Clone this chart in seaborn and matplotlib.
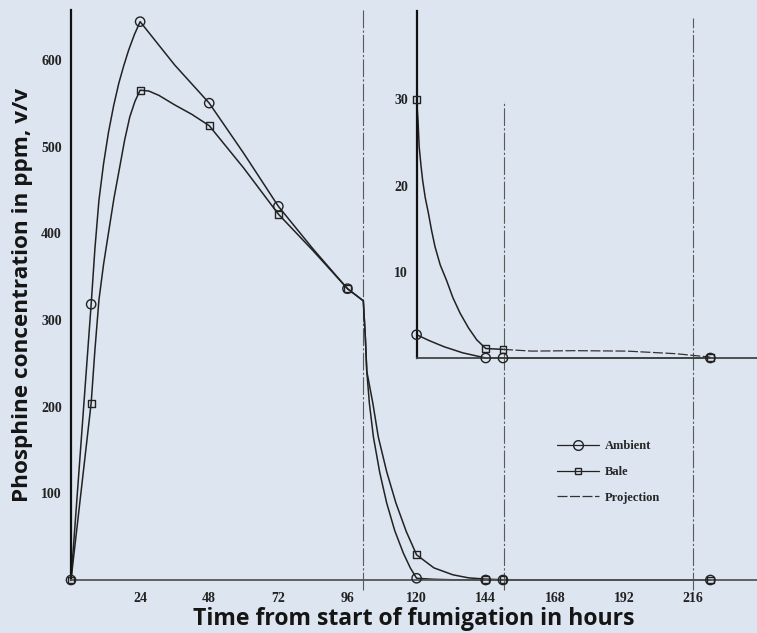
import matplotlib
matplotlib.use("Agg")
import matplotlib.pyplot as plt
from matplotlib.lines import Line2D
from matplotlib.legend_handler import HandlerLine2D
import seaborn as sns

# measured points, hours from start vs phosphine ppm v/v
hours = [0, 7, 24, 48, 72, 96, 120, 144, 150, 222]
ambient_ppm = [0, 318, 644, 550, 431, 336, 2, 0, 0, 0]
bale_ppm = [0, 204, 565, 524, 422, 336, 29, 1, 0.3, 0]

# the hand drawn curves through those points
ambient_curve_h = [0, 7, 8.3, 9.7, 11.3, 13, 14.8, 16.6, 18.3, 20, 22, 24, 36, 48, 60, 72, 84, 96, 101.5,
                   102.2, 102.7, 103.6, 105, 107.2, 109.6, 112.4, 115.4, 117.8, 120, 126, 132, 144, 222]
ambient_curve_ppm = [0, 318, 382, 438, 480, 516, 547, 573, 593, 611, 629, 644, 594, 550, 492, 431, 382, 336, 322,
                     280, 241, 204, 165, 124, 89, 57, 31, 14, 2, 0.8, 0.3, 0, 0]
bale_curve_h = [0, 7, 8.3, 9.7, 11.3, 13, 14.9, 16.9, 18.6, 20.4, 22.2, 24, 27, 30.5, 36, 42, 48, 60, 72, 84, 96,
                101.5, 102.2, 102.7, 104.8, 106.7, 109.6, 112.8, 116.4, 120, 126, 132.6, 138, 144, 150, 222]
bale_curve_ppm = [0, 204, 265, 323, 364, 400, 440, 476, 507, 534, 552, 565, 564, 559, 548, 537, 524, 475, 422, 380, 336,
                  322, 280, 241, 204, 165, 125, 89, 56, 29, 14, 6, 2.5, 1, 0.3, 0]

# inset, 0-40 ppm after 120 h
inset_hours = [120, 144, 150, 222]
inset_ambient = [2.7, 0, 0, 0]
inset_bale = [30, 1.1, 1.0, 0.1]
inset_ambient_curve_h = [120, 124.5, 129.6, 136, 144, 150, 222]
inset_ambient_curve_ppm = [2.7, 2.0, 1.3, 0.6, 0, 0, 0]
inset_bale_curve_h = [120, 120.5, 120.9, 121.5, 122.1, 123, 124.1, 125.2, 126.4, 128.2, 130.4, 132.6,
                      135.1, 138, 140.9, 144, 150]
inset_bale_curve_ppm = [30, 27.5, 24.5, 22.4, 20.6, 18.6, 16.8, 14.8, 12.9, 10.8, 9.0, 7.0,
                        5.2, 3.5, 2.1, 1.1, 1.0]
projection_h = [150, 160, 175, 193, 210, 222]
projection_ppm = [1.0, 0.8, 0.85, 0.8, 0.5, 0.1]

# vertical reference lines (hours) and where they stop at the top (ppm)
ref_hours = [101.5, 150.4, 216]
ref_top = [657, 553, 648]

bg = '#dce5f0'
ink = '#222222'

sns.set_style("white")
plt.rcParams['font.family'] = ['Liberation Serif', 'DejaVu Serif']

fig = plt.figure(figsize=(7.57, 6.33), dpi=100, facecolor=bg)
ax = fig.add_axes([71/757, 53/633, 686/757, 570/633])
ax.set_facecolor(bg)

ax.vlines(ref_hours, -11.5, ref_top, colors='#5a5a5a', linewidth=0.8,
          linestyles=(0, (16, 2, 2, 2)), clip_on=False, zorder=1)

sns.lineplot(x=ambient_curve_h, y=ambient_curve_ppm, sort=False, estimator=None,
             color=ink, linewidth=1.1, ax=ax, clip_on=False)
sns.lineplot(x=bale_curve_h, y=bale_curve_ppm, sort=False, estimator=None,
             color=ink, linewidth=1.1, ax=ax, clip_on=False)
sns.scatterplot(x=hours, y=ambient_ppm, marker='o', s=45, facecolor='none',
                edgecolor=ink, linewidth=1.0, ax=ax, clip_on=False, zorder=5)
sns.scatterplot(x=hours, y=bale_ppm, marker='s', s=24, facecolor='none',
                edgecolor=ink, linewidth=1.0, ax=ax, clip_on=False, zorder=5)

ax.set_xlim(0, 686/2.88)
ax.set_ylim(0, 570/0.867)
ax.set_xticks([24, 48, 72, 96, 120, 144, 168, 192, 216])
ax.set_yticks([100, 200, 300, 400, 500, 600])
ax.tick_params(axis='x', length=0, pad=8.5, labelsize=10, labelcolor=ink)
ax.tick_params(axis='y', length=0, pad=6.5, labelsize=10, labelcolor=ink)
for lab in ax.get_xticklabels() + ax.get_yticklabels():
    lab.set_fontweight('bold')
sns.despine(ax=ax)
ax.spines['left'].set_color('#111111')
ax.spines['left'].set_linewidth(1.6)
ax.spines['bottom'].set_color('#555555')
ax.spines['bottom'].set_linewidth(1.3)

ax.set_xlabel("Time from start of fumigation in hours", fontfamily='Open Sans',
              fontweight='bold', fontsize=16.6, color='#151515')
ax.set_ylabel("Phosphine concentration in ppm, v/v", fontfamily='Open Sans',
              fontweight='bold', fontsize=16.2, color='#151515')
ax.xaxis.set_label_coords(0.5, -0.048)
ax.yaxis.set_label_coords(-0.056, 0.5)

# inset axes for the tail
ins = fig.add_axes([417/757, 275/633, 340/757, 347/633])
ins.patch.set_visible(False)
sns.lineplot(x=inset_ambient_curve_h, y=inset_ambient_curve_ppm, sort=False, estimator=None,
             color=ink, linewidth=1.1, ax=ins, clip_on=False)
sns.lineplot(x=inset_bale_curve_h, y=inset_bale_curve_ppm, sort=False, estimator=None,
             color=ink, linewidth=1.1, ax=ins, clip_on=False)
sns.lineplot(x=projection_h, y=projection_ppm, sort=False, estimator=None,
             color='#333333', linewidth=0.9, ax=ins, clip_on=False)
ins.lines[-1].set_linestyle((0, (8, 2)))
sns.scatterplot(x=inset_hours, y=inset_ambient, marker='o', s=45, facecolor='none',
                edgecolor=ink, linewidth=1.0, ax=ins, clip_on=False, zorder=5)
sns.scatterplot(x=inset_hours, y=inset_bale, marker='s', s=24, facecolor='none',
                edgecolor=ink, linewidth=1.0, ax=ins, clip_on=False, zorder=5)
ins.set_xlim((417 - 71)/2.88, 686/2.88)
ins.set_ylim(0, 347/8.62)
ins.set_xticks([])
ins.set_yticks([10, 20, 30])
ins.tick_params(axis='y', length=0, pad=6.5, labelsize=10, labelcolor=ink)
for lab in ins.get_yticklabels():
    lab.set_fontweight('bold')
sns.despine(ax=ins)
ins.spines['left'].set_color('#111111')
ins.spines['left'].set_linewidth(1.6)
ins.spines['bottom'].set_color('#444444')
ins.spines['bottom'].set_linewidth(1.3)


class EndMarker(HandlerLine2D):
    # the marker sits near the right end of the legend line
    def get_xdata(self, legend, xdescent, ydescent, width, height, fontsize):
        xdata, _ = super().get_xdata(legend, xdescent, ydescent, width, height, fontsize)
        return xdata, [-xdescent + 0.72 * width]


handles = [Line2D([], [], color=ink, linewidth=0.9, marker='o', markersize=7, mfc='none', mec=ink),
           Line2D([], [], color=ink, linewidth=0.9, marker='s', markersize=5, mfc='none', mec=ink),
           Line2D([], [], color='#333333', linewidth=0.9, linestyle=(0, (8, 2)))]
ax.legend(handles, ['Ambient', 'Bale', 'Projection'], loc='upper left',
          bbox_to_anchor=(551/757, 1 - 434/633), bbox_transform=fig.transFigure,
          frameon=False, borderpad=0, handlelength=3.3, handletextpad=0.5,
          labelspacing=1.1, prop={'family': 'Liberation Serif', 'weight': 'bold', 'size': 9},
          handler_map={Line2D: EndMarker(numpoints=1)})

plt.savefig('out.png', dpi=100, facecolor=bg)
